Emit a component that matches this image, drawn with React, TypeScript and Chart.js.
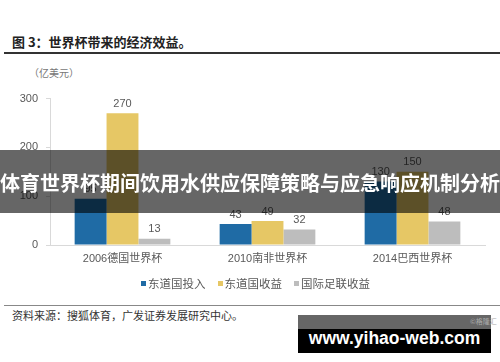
import React, { useEffect, useRef } from "react";
import { Chart, registerables } from "chart.js";

Chart.register(...registerables);

const categories = ["2006德国世界杯", "2010南非世界杯", "2014巴西世界杯"];
const seriesNames = ["东道国投入", "东道国收益", "国际足联收益"];
const hostInvest = [95, 43, 130];
const hostIncome = [270, 49, 150];
const fifaIncome = [13, 32, 48];
const yTicks = [0, 100, 200, 300];
const colors = ["#1F6BA5", "#E6C765", "#BDBDBD"];

const FONT = "'Liberation Sans', 'Noto Sans CJK SC', sans-serif";
const CJK = "'Noto Sans CJK SC', 'Liberation Sans', sans-serif";

const labelPlugin = {
  id: "barLabels",
  afterDatasetsDraw(chart: any) {
    const ctx = chart.ctx;
    ctx.save();
    ctx.font = `11px ${FONT}`;
    ctx.fillStyle = "#595959";
    ctx.textAlign = "center";
    ctx.textBaseline = "bottom";
    chart.data.datasets.forEach((ds: any, i: number) => {
      const meta = chart.getDatasetMeta(i);
      meta.data.forEach((el: any, j: number) => {
        ctx.fillText(String(ds.data[j]), el.x, el.y - 4);
      });
    });
    ctx.restore();
  },
};

export default function App() {
  const ref = useRef<HTMLCanvasElement | null>(null);

  useEffect(() => {
    if (!ref.current) return;
    const series = [hostInvest, hostIncome, fifaIncome];
    const chart = new Chart(ref.current, {
      type: "bar",
      data: {
        labels: categories,
        datasets: series.map((d, i) => ({
          label: seriesNames[i],
          data: d,
          backgroundColor: colors[i],
          borderWidth: 0,
          categoryPercentage: 0.66,
          barPercentage: 1,
        })),
      },
      options: {
        animation: false,
        responsive: false,
        maintainAspectRatio: false,
        layout: { padding: { top: 13, left: 0, right: 15, bottom: 0 } },
        plugins: { legend: { display: false }, tooltip: { enabled: false } },
        scales: {
          x: {
            grid: { display: false, drawTicks: false },
            border: { color: "#D9D9D9", width: 1 },
            ticks: { color: "#595959", font: { size: 11, family: FONT }, padding: 7 },
            afterFit: (s: any) => {
              s.height = 34;
            },
          },
          y: {
            min: 0,
            max: 300,
            afterBuildTicks: (s: any) => {
              s.ticks = yTicks.map((v) => ({ value: v }));
            },
            grid: { drawOnChartArea: false, drawTicks: true, tickLength: 4, color: "#D9D9D9" },
            border: { color: "#D9D9D9", width: 1 },
            ticks: { color: "#595959", font: { size: 11, family: FONT }, padding: 8 },
            afterFit: (s: any) => {
              s.width = 50;
            },
          },
        },
      },
      plugins: [labelPlugin],
    });
    return () => chart.destroy();
  }, []);

  return (
    <div
      style={{
        position: "absolute",
        left: 0,
        top: 0,
        width: 500,
        height: 362,
        background: "#fff",
        overflow: "hidden",
        fontFamily: CJK,
      }}
    >
      <div
        style={{
          position: "absolute",
          left: 12,
          top: 33,
          fontSize: 13,
          fontWeight: 700,
          color: "#222",
          whiteSpace: "nowrap",
          lineHeight: "18px",
        }}
      >
        图 3：世界杯带来的经济效益。
      </div>
      <div style={{ position: "absolute", left: 4, top: 52, width: 496, height: 1.5, background: "#333" }} />
      <div
        style={{
          position: "absolute",
          left: 29,
          top: 66,
          fontSize: 10,
          color: "#777",
          whiteSpace: "nowrap",
          lineHeight: "14px",
        }}
      >
        （亿美元）
      </div>
      <canvas
        ref={ref}
        width={500}
        height={195}
        style={{ position: "absolute", left: 0, top: 84, width: 500, height: 195 }}
      />
      <div
        style={{
          position: "absolute",
          left: 141,
          top: 276,
          display: "flex",
          alignItems: "center",
          height: 14,
          whiteSpace: "nowrap",
        }}
      >
        {seriesNames.map((n, i) => (
          <div key={n} style={{ display: "flex", alignItems: "center", marginRight: 12 }}>
            <span style={{ display: "inline-block", width: 5, height: 5, background: colors[i], marginRight: 2 }} />
            <span style={{ fontSize: 11.5, color: "#595959", lineHeight: "14px" }}>{n}</span>
          </div>
        ))}
      </div>
      <div style={{ position: "absolute", left: 4, top: 304.5, width: 496, height: 1.5, background: "#888" }} />
      <div
        style={{
          position: "absolute",
          left: 12,
          top: 308,
          fontSize: 11,
          color: "#333",
          whiteSpace: "nowrap",
          lineHeight: "14px",
        }}
      >
        资料来源：搜狐体育，广发证券发展研究中心。
      </div>
      <div
        style={{
          position: "absolute",
          left: 0,
          top: 150,
          width: 500,
          height: 63,
          background: "rgba(0,0,0,0.6)",
          display: "flex",
          alignItems: "center",
          justifyContent: "center",
          overflow: "visible",
        }}
      >
        <span
          style={{
            color: "#fff",
            fontWeight: 700,
            fontSize: 20,
            whiteSpace: "nowrap",
            lineHeight: "26px",
            marginTop: 3,
          }}
        >
          体育世界杯期间饮用水供应保障策略与应急响应机制分析
        </span>
      </div>
      <div style={{ position: "absolute", left: 298, top: 315, width: 193, height: 14, background: "#666" }} />
      <div
        style={{
          position: "absolute",
          left: 470,
          top: 317,
          fontSize: 7,
          color: "#aaa",
          whiteSpace: "nowrap",
          lineHeight: "9px",
        }}
      >
        ©格隆汇
      </div>
      <div
        style={{
          position: "absolute",
          left: 298,
          top: 329,
          width: 193,
          height: 24,
          background: "#000",
          display: "flex",
          alignItems: "center",
          justifyContent: "center",
        }}
      >
        <span
          style={{
            color: "#fff",
            fontWeight: 700,
            fontSize: 17.5,
            fontFamily: "'Liberation Sans', sans-serif",
            whiteSpace: "nowrap",
            lineHeight: "20px",
            marginTop: -6,
          }}
        >
          www.yihao-web.com
        </span>
      </div>
    </div>
  );
}
